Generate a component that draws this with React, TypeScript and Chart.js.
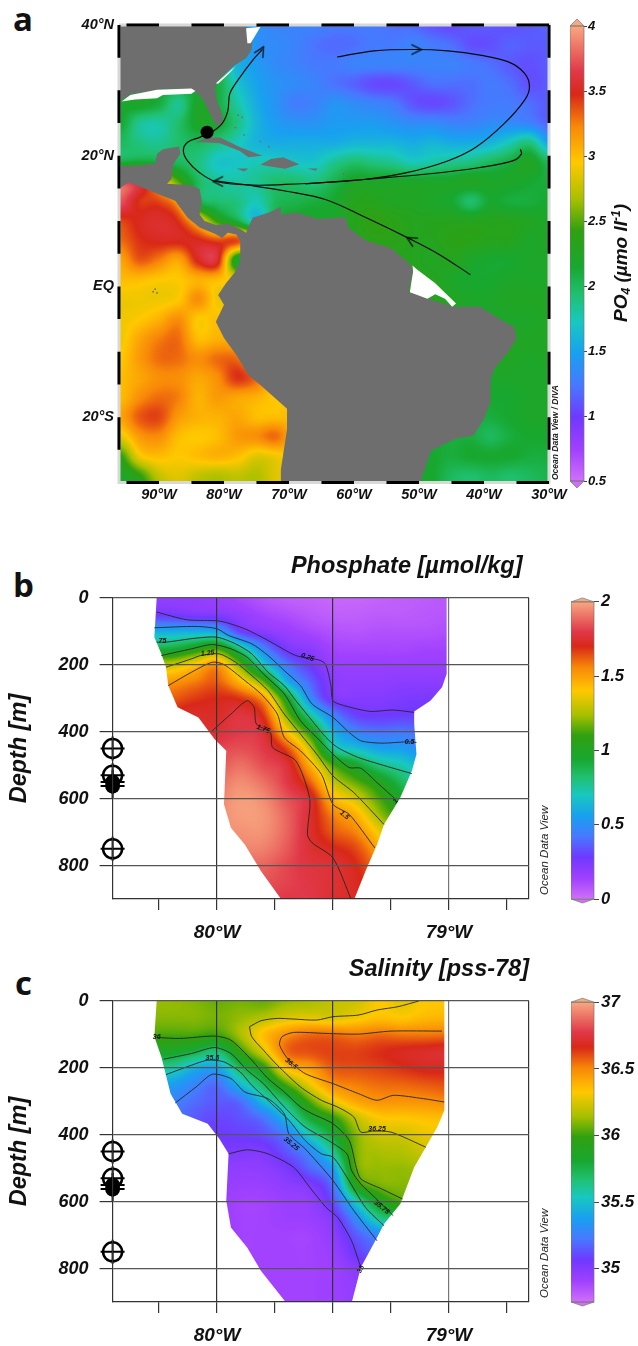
import React, { useEffect, useRef } from "react";
import { Chart, registerables } from "chart.js";
Chart.register(...registerables);

const FONT = "'Liberation Sans', Arial, sans-serif";

// ---------- colour ramp shared by the three panels ----------
const rampStops: [number, string][] = [
  [0, "#d070f8"], [0.07, "#a040ff"], [0.14, "#7038ff"], [0.21, "#4878ff"], [0.28, "#18a0f0"],
  [0.35, "#18c8c0"], [0.41, "#20c070"], [0.47, "#18a830"], [0.55, "#30a010"], [0.62, "#a8c000"],
  [0.7, "#ffc800"], [0.78, "#f88808"], [0.85, "#d82818"], [0.9, "#e03848"], [1, "#f8a880"],
];

// ---------- panel a : PO4 surface field ----------
const mapLons = [-96,-93,-90,-87,-84,-81,-78,-75,-72,-69,-66,-63,-60,-57,-54,-51,-48,-45,-42,-39,-36,-33,-30];
const mapLats = [40,37,34,31,28,25,22,19,16,13,10,7,4,1,-2,-5,-8,-11,-14,-17,-20,-23,-26,-29,-32];
const po4Rows = [
  [2,2,2,2,2,2,1.6,1.4,1.3,1.3,1.3,1.25,1.25,1.25,1.2,1.18,1.1,1.05,1.12,1.12,1.08,1.12,1.15],
  [2,2,2,2,2,2,1.7,1.4,1.35,1.3,1.22,1.18,1.2,1.25,1.25,1.3,1.25,1.2,1.08,1.08,1.15,1.12,1.12],
  [2,2,2,2,2,2,1.6,1.45,1.35,1.3,1.25,1.25,1.3,1.3,1.3,1.3,1.3,1.3,1.25,1.2,1.12,1.08,1.12],
  [2.1,2.1,2.1,2.1,2.1,2.1,1.7,1.5,1.4,1.35,1.3,1.22,1.15,1.06,1.05,1.12,1.2,1.2,1.2,1.25,1.2,1.08,1.12],
  [2.15,2.2,2.1,1.85,2.2,2.1,1.8,1.55,1.4,1.27,1.3,1.4,1.35,1.3,1.25,1.1,1.05,1.1,1.2,1.25,1.25,1.2,1.12],
  [2.15,1.85,1.8,1.95,2.2,2.15,1.9,1.6,1.45,1.4,1.4,1.45,1.45,1.45,1.4,1.35,1.35,1.3,1.3,1.35,1.35,1.3,1.15],
  [2.0,1.9,1.85,1.95,2.0,1.9,1.75,1.6,1.55,1.55,1.55,1.55,1.6,1.6,1.6,1.55,1.6,1.55,1.55,1.6,1.75,1.9,1.5],
  [2.1,2.15,2.1,2.0,1.9,1.7,1.7,1.75,1.75,1.7,1.7,1.85,1.95,1.9,1.85,1.75,1.8,1.85,1.9,2.0,2.1,2.25,2.0],
  [3.7,3.5,3.0,2.5,2.0,1.85,1.8,1.85,1.95,1.95,1.9,2.05,2.2,2.2,2.2,2.2,2.2,2.2,2.25,2.2,2.2,2.15,2.1],
  [3.75,3.45,3.4,3.1,2.1,1.95,1.9,1.75,2.0,2.05,2.1,2.15,2.3,2.3,2.25,2.25,2.2,2.15,1.95,2.15,2.1,2.1,2.15],
  [3.4,3.5,3.55,3.45,3.0,2.4,2.1,1.7,2.1,2.2,2.2,2.2,2.3,2.4,2.35,2.3,2.3,2.3,2.3,2.3,2.3,2.25,2.2],
  [3.3,3.45,3.5,3.5,3.5,3.4,3.4,3.0,2.4,2.3,2.3,2.3,2.3,2.35,2.35,2.3,2.3,2.35,2.35,2.3,2.3,2.2,2.25],
  [3.1,3.35,3.25,3.1,3.5,3.55,2.2,2.4,2.4,2.3,2.3,2.3,2.3,2.3,2.3,2.3,2.25,2.3,2.2,2.15,2.15,2.2,2.2],
  [3.0,3.0,2.95,2.95,3.05,3.0,2.9,2.9,2.4,2.3,2.3,2.3,2.3,2.3,2.3,2.3,2.3,2.2,2.15,2.15,2.2,2.2,2.2],
  [2.9,2.9,2.9,2.95,3.2,2.9,2.9,2.9,2.4,2.3,2.3,2.3,2.3,2.3,2.3,2.3,2.3,2.25,2.2,2.2,2.25,2.25,2.25],
  [2.9,2.95,3.05,3.2,2.95,3.0,3.0,2.9,2.4,2.3,2.3,2.3,2.3,2.3,2.3,2.3,2.3,2.25,2.2,2.2,2.2,2.2,2.25],
  [2.9,3.1,3.25,3.3,3.0,3.05,3.05,2.9,2.4,2.3,2.3,2.3,2.3,2.3,2.3,2.3,2.3,2.25,2.25,2.25,2.25,2.25,2.25],
  [2.95,3.15,3.3,3.3,3.2,3.3,3.3,3.0,2.9,2.3,2.3,2.3,2.3,2.3,2.3,2.3,2.3,2.25,2.25,2.25,2.25,2.2,2.25],
  [3.0,3.1,3.2,3.2,3.1,3.2,3.45,3.3,3.0,2.9,2.3,2.3,2.3,2.3,2.3,2.3,2.3,2.25,2.2,2.2,2.2,2.2,2.2],
  [3.0,3.2,3.3,3.25,3.05,3.15,3.1,3.05,2.95,2.95,2.3,2.3,2.3,2.3,2.3,2.3,2.3,2.2,2.15,2.15,2.15,2.2,2.2],
  [3.1,3.35,3.4,3.15,3.05,3.05,3.1,3.0,3.0,3.0,2.9,2.3,2.3,2.3,2.3,2.3,2.2,2.15,2.1,2.1,2.15,2.2,2.2],
  [2.85,3.15,3.2,3.0,2.95,3.0,3.15,3.2,3.3,3.0,2.9,2.3,2.3,2.3,2.2,2.2,2.15,2.1,2.1,2.0,2.1,2.15,2.15],
  [2.4,2.9,3.0,2.95,3.0,3.05,3.0,2.85,2.9,3.0,2.9,2.3,2.3,2.2,2.2,2.15,2.15,2.1,2.15,2.15,2.15,2.1,2.1],
  [2.2,2.4,2.75,2.85,2.75,2.7,2.75,2.7,2.85,2.9,2.8,2.3,2.3,2.2,2.2,2.15,2.15,2.0,1.95,2.0,1.95,2.0,2.05],
  [2.1,2.3,2.6,2.8,2.7,2.7,2.75,2.7,2.85,2.9,2.8,2.3,2.3,2.2,2.2,2.15,2.15,2.0,1.95,2.0,1.95,2.0,2.05],
];

const landNorthAmerica = [[-96.2,40.1],[-76.6,40.1],[-75.6,37.9],[-75.75,36.2],[-76.6,34.9],[-78.4,33.8],[-80.9,31.5],[-81.4,30.3],[-81.1,28.5],[-80.3,26.4],[-80.1,25.3],[-81.25,24.5],[-82,26.2],[-83.3,28.7],[-84.5,29.9],[-86.9,30.3],[-90,30.1],[-92.5,29.7],[-94.4,29.4],[-95.6,28.6],[-96.2,28.2],[-96.2,40.1]];
const landAmericas = [[-96.2,18.4],[-93.1,18.5],[-90.6,18.8],[-90.3,20.3],[-89.4,21],[-86.9,21.4],[-86.7,20.3],[-87.8,18.7],[-88.1,16.4],[-88.75,15.7],[-85,15.5],[-83.75,14.9],[-83.4,13.1],[-83.75,11],[-83,10],[-81.25,9.4],[-79.4,9.6],[-77.5,8.8],[-76.6,8.2],[-75.6,10.5],[-73.1,11.3],[-71.25,12.2],[-71.25,11],[-68.75,11.3],[-65.6,10.3],[-61.25,10.6],[-60.9,9],[-58.1,7],[-54.4,5.9],[-51.25,3.3],[-50.9,2.3],[-51.6,-0.8],[-48.75,-1.8],[-44.7,-3.1],[-40.6,-3.1],[-36.9,-5.4],[-35.3,-6.2],[-35,-8],[-36.25,-10],[-38.4,-12.6],[-39,-14.4],[-39,-17.7],[-40,-20.3],[-41.6,-22.8],[-44.4,-23.3],[-48.1,-25.1],[-48.75,-26.9],[-50,-30.5],[-71.25,-30.5],[-71.25,-28],[-70.3,-21.8],[-70.3,-18.7],[-74.4,-15.1],[-76.25,-13.6],[-78.1,-10.5],[-80,-7.9],[-81.25,-5.4],[-80,-2.8],[-80.9,-1.3],[-79.7,0.5],[-78.4,2.05],[-77.5,3.85],[-77.5,6.9],[-78.1,7.95],[-79.4,8.2],[-80.3,7.4],[-81.25,8.0],[-83.75,9],[-85.6,10.5],[-87.5,13.1],[-89.4,13.85],[-92.5,15.1],[-94.7,15.9],[-96.2,14.9],[-96.2,18.4]];
const landCuba = [[-84.4,22.05],[-82.5,22.8],[-80.6,22.8],[-77.5,21.3],[-74.1,20],[-76.25,19.75],[-77.5,20.7],[-80.6,21.9],[-83.1,22.05],[-84.4,22.05]];
const landHispaniola = [[-74.4,18.6],[-72.8,19.5],[-70.9,19.75],[-68.4,18.7],[-70.6,18],[-73.1,18.4],[-74.4,18.6]];
const landJamaica = [[-78.1,18.05],[-76.25,18.05],[-76.9,17.6],[-78.1,18.05]];
const landPuertoRico = [[-67.2,18.05],[-65.6,18.05],[-65.9,17.7],[-67.2,18.05]];
const islandDots = [[-77.8,26.2],[-77.2,25.9],[-78.25,24.3],[-76.9,23.2],[-74.4,22.2],[-73.1,21.4],[-61.6,17.2],[-61.4,16.2],[-61.1,14.6],[-61.1,13.1],[-90.9,-0.8],[-90.3,-1],[-90.6,-0.4]];
const noDataDelaware = [[-76.6,39.5],[-74.4,39.7],[-75.3,38.2],[-75.9,37.2],[-76.4,37.2],[-76.6,39.5]];
const noDataGeorgia = [[-81.25,31.1],[-78.25,33.7],[-79.1,32.7],[-80.9,31],[-81.25,31.1]];
const noDataGulf = [[-95.75,28.3],[-94.4,29.3],[-90.3,30.1],[-85,30.3],[-84.4,29.9],[-85,29.5],[-89.4,29.3],[-90.3,28.8],[-93.7,28.6],[-95.75,28.3]];
const noDataAmazon = [[-51,3.2],[-50.3,2.6],[-47.5,0.5],[-44.3,-2.6],[-44.9,-3.1],[-46,-1.9],[-47.5,-1.2],[-48.7,-1.9],[-51.4,-0.9],[-51.2,0.5],[-50.9,2.3],[-51,3.2]];

const currentGyre = [[-62.6,35.1],[-56.9,36.05],[-50.6,36.25],[-45.6,36.05],[-40.6,35.4],[-36.25,34.35],[-33.75,32.6],[-33,30.5],[-33.75,28.5],[-36.9,24.9],[-41.25,21.3],[-45.6,19.2],[-51.9,17.4],[-58.1,16.4],[-64.4,15.9],[-70.6,15.6],[-75.6,15.5],[-81.25,16.05],[-83.75,17.4],[-85.6,19.2],[-86.25,20.8],[-85.6,22.05],[-83.75,22.8],[-81.9,23.6],[-80.3,24.9],[-79.4,26.9],[-79.1,29.5],[-77.5,32.05],[-75.6,34.6],[-74.1,36.25]];
const currentNorthEquatorial = [[-34.4,21],[-34.25,20.25],[-35.6,19.2],[-40.6,18.2],[-48.75,17.2],[-58.1,16.4],[-67.5,15.7]];
const currentGuiana = [[-42.1,1.8],[-46.9,4.9],[-51.25,7.2],[-58.1,10.5],[-64.4,13.3],[-70.6,14.6],[-75.6,15.4],[-81.25,16.15]];
const arrowTips = [[-50.4,36.25],[-74.3,36.0],[-80.9,16.05],[-51.2,7.1]];
const arrowAngles = [0, -60, 180, -150];
const coreSite = [[-82.6, 23.6]];

const mapLonMin = -96.15;
const mapBorderLonDashes = [[-95,-90],[-85,-80],[-75,-70],[-65,-60],[-55,-50],[-45,-40],[-35,-30]];
const mapBorderLatDashes = [[40,35],[30,25],[20,15],[10,5],[0,-5],[-10,-15],[-20,-25]];
const mapLonTicks = [-90,-80,-70,-60,-50,-40,-30];
const mapLatTicks = [40,20,0,-20];

// ---------- panels b, c : sections ----------
const sectionLons = [-80.3,-80.2,-80.1,-80,-79.9,-79.8,-79.7,-79.6,-79.5,-79.4,-79.3,-79.2,-79.1,-79];
const sectionDepths = [0,50,100,150,200,250,300,350,400,450,500,550,600,650,700,750,800,850,900];
const sectionLonTicks = [-80.25,-80,-79.75,-79.5,-79.25,-79,-78.75,-78.655];
const sectionDepthTicks = [0,200,400,600,800];

const phosphateColumns = [
  [.18,.27,.6,.9,1.29,1.52,1.62,1.72,1.75,1.78,1.8,1.82,1.85,1.85,1.85,1.85,1.85,1.85,1.85],
  [.18,.27,.6,.9,1.29,1.52,1.62,1.72,1.75,1.78,1.8,1.82,1.85,1.85,1.85,1.85,1.85,1.85,1.85],
  [.18,.24,.6,1.0,1.4,1.57,1.67,1.74,1.76,1.8,1.85,1.88,1.9,1.92,1.9,1.88,1.85,1.82,1.8],
  [.16,.23,.57,1.1,1.52,1.62,1.7,1.73,1.76,1.82,1.85,1.9,1.93,1.95,1.94,1.9,1.85,1.82,1.8],
  [.12,.18,.3,.78,1.17,1.44,1.68,1.78,1.8,1.84,1.9,1.95,1.98,1.98,1.96,1.93,1.88,1.85,1.82],
  [.08,.13,.21,.46,.72,1.15,1.52,1.68,1.76,1.8,1.84,1.9,1.95,1.97,1.96,1.93,1.88,1.85,1.82],
  [.05,.1,.16,.25,.43,.62,1.0,1.2,1.42,1.65,1.77,1.8,1.85,1.88,1.88,1.86,1.83,1.82,1.8],
  [.04,.07,.12,.2,.28,.38,.5,.77,1.06,1.3,1.47,1.62,1.75,1.75,1.75,1.76,1.78,1.79,1.8],
  [.03,.05,.09,.13,.17,.21,.24,.46,.63,.77,1.13,1.3,1.45,1.57,1.63,1.71,1.76,1.76,1.75],
  [.03,.05,.08,.12,.16,.19,.22,.3,.46,.66,.96,1.15,1.32,1.46,1.56,1.65,1.7,1.72,1.72],
  [.04,.06,.09,.12,.16,.19,.22,.28,.41,.57,.8,1.02,1.13,1.23,1.37,1.48,1.55,1.6,1.62],
  [.05,.06,.09,.12,.16,.2,.24,.29,.42,.55,.72,.85,.96,1.05,1.15,1.25,1.3,1.35,1.4],
  [.06,.07,.09,.13,.16,.2,.25,.3,.38,.48,.6,.7,.8,.9,1,1.1,1.15,1.2,1.25],
  [.07,.08,.1,.13,.16,.2,.25,.3,.36,.44,.55,.65,.75,.85,.95,1.05,1.1,1.15,1.2],
];
const salinityColumns = [
  [36.12,36.1,36.02,35.85,35.6,35.38,35.27,35.2,35.12,35.08,35.05,35,35,35,35,35,35,35,35],
  [36.12,36.1,36.02,35.85,35.6,35.38,35.27,35.2,35.12,35.08,35.05,35,35,35,35,35,35,35,35],
  [36.1,36.1,36.02,35.78,35.45,35.28,35.2,35.15,35.1,35.05,35,34.97,34.95,34.95,34.95,34.95,34.95,34.95,34.95],
  [36.06,36.08,36.0,35.68,35.4,35.2,35.15,35.1,35.07,35.03,34.98,34.95,34.93,34.93,34.93,34.93,34.93,34.93,34.93],
  [36.08,36.12,36.15,35.98,35.72,35.47,35.2,35.13,35.08,35.02,34.96,34.93,34.9,34.9,34.9,34.9,34.9,34.9,34.9],
  [36.06,36.17,36.35,36.25,35.95,35.72,35.48,35.22,35.12,35.02,34.97,34.93,34.9,34.9,34.9,34.9,34.9,34.9,34.9],
  [36.12,36.25,36.48,36.55,36.35,36.02,35.7,35.48,35.25,35.14,35.03,34.97,34.93,34.92,34.9,34.9,34.9,34.9,34.9],
  [36.15,36.27,36.55,36.6,36.45,36.28,36.03,35.8,35.55,35.3,35.18,35.02,34.95,34.93,34.9,34.9,34.9,34.9,34.9],
  [36.2,36.25,36.55,36.62,36.58,36.48,36.28,35.97,35.8,35.62,35.38,35.22,35.12,35.01,34.97,34.94,34.92,34.92,34.92],
  [36.22,36.3,36.52,36.62,36.6,36.52,36.42,36.2,36.1,36.08,36.05,35.92,35.55,35.3,35.15,35.08,34.99,34.96,34.95],
  [36.32,36.35,36.55,36.65,36.62,36.55,36.47,36.32,36.22,36.15,36.12,36.08,35.88,35.62,35.3,35.2,35.1,35.05,35],
  [36.27,36.33,36.53,36.68,36.65,36.56,36.47,36.33,36.23,36.17,36.12,36.1,36.02,35.7,35.45,35.3,35.15,35.1,35.05],
  [36.32,36.37,36.53,36.7,36.68,36.58,36.48,36.35,36.28,36.22,36.15,36.1,36,35.8,35.6,35.4,35.2,35.15,35.1],
  [36.33,36.38,36.54,36.72,36.68,36.6,36.5,36.36,36.3,36.25,36.18,36.12,36,35.8,35.6,35.4,35.2,35.15,35.1],
];

const phosphateOutline = [[-80.26,0],[-80.27,117],[-80.24,167],[-80.22,207],[-80.21,262],[-80.17,327],[-80.08,357],[-80.01,422],[-79.96,457],[-79.97,617],[-79.94,687],[-79.88,737],[-79.81,817],[-79.72,904],[-79.41,904],[-79.36,817],[-79.31,737],[-79.28,677],[-79.21,597],[-79.16,517],[-79.14,467],[-79.15,377],[-79.15,339],[-79.08,307],[-79.03,267],[-79.01,227],[-79.01,0]];
const salinityOutline = [[-80.26,0],[-80.27,107],[-80.24,167],[-80.22,222],[-80.2,277],[-80.15,337],[-80.04,367],[-79.99,412],[-79.95,457],[-79.96,597],[-79.94,677],[-79.87,737],[-79.81,807],[-79.7,904],[-79.42,904],[-79.38,797],[-79.31,707],[-79.28,667],[-79.21,607],[-79.15,497],[-79.1,437],[-79.05,377],[-79.02,327],[-79.02,0]];

const phosphateContours = [
  [[-80.26,42],[-80.13,65],[-79.99,69],[-79.88,92],[-79.78,127],[-79.66,172],[-79.54,192],[-79.51,257],[-79.5,307],[-79.45,322],[-79.34,339],[-79.24,335],[-79.15,342]],
  [[-80.27,89],[-80.09,85],[-80,92],[-79.95,112],[-79.85,137],[-79.78,172],[-79.71,217],[-79.64,262],[-79.59,317],[-79.5,357],[-79.43,402],[-79.38,427],[-79.29,434],[-79.18,430],[-79.14,432]],
  [[-80.26,132],[-80.22,132],[-80.09,120],[-80,117],[-79.92,137],[-79.85,167],[-79.78,222],[-79.71,262],[-79.66,307],[-79.59,367],[-79.53,417],[-79.48,447],[-79.39,477],[-79.25,507],[-79.16,525]],
  [[-80.24,172],[-80.11,152],[-80.02,139],[-79.94,152],[-79.87,177],[-79.8,227],[-79.71,287],[-79.64,367],[-79.57,417],[-79.5,467],[-79.43,507],[-79.38,509],[-79.31,552],[-79.23,602]],
  [[-80.22,207],[-80.11,182],[-80.07,172],[-79.99,167],[-79.92,192],[-79.85,232],[-79.78,277],[-79.71,347],[-79.64,407],[-79.57,467],[-79.5,532],[-79.41,582],[-79.28,677]],
  [[-80.21,262],[-80.11,222],[-80.02,192],[-79.97,199],[-79.88,247],[-79.81,287],[-79.74,347],[-79.71,417],[-79.64,457],[-79.55,527],[-79.5,617],[-79.43,647],[-79.32,747]],
  [[-80.02,397],[-79.94,347],[-79.87,307],[-79.84,327],[-79.83,377],[-79.77,402],[-79.76,447],[-79.66,487],[-79.6,602],[-79.61,707],[-79.59,732],[-79.5,777],[-79.42,904]],
];
const salinityContours = [
  [[-79.86,77],[-79.81,59],[-79.74,52],[-79.67,54],[-79.57,57],[-79.5,47],[-79.39,42],[-79.31,27],[-79.22,17],[-79.13,0]],
  [[-79.86,77],[-79.85,107],[-79.8,147],[-79.74,192],[-79.64,257],[-79.55,297],[-79.48,317],[-79.41,347],[-79.38,392],[-79.33,389],[-79.25,392],[-79.1,437]],
  [[-79.03,90],[-79.25,90],[-79.39,99],[-79.53,97],[-79.67,94],[-79.72,107],[-79.73,132],[-79.69,177],[-79.62,217],[-79.5,247],[-79.39,277],[-79.31,297],[-79.24,282],[-79.11,292],[-79.02,302]],
  [[-80.26,109],[-80.16,112],[-80.01,105],[-79.94,117],[-79.85,177],[-79.78,232],[-79.71,272],[-79.64,317],[-79.59,337],[-79.5,367],[-79.43,417],[-79.4,497],[-79.38,532],[-79.29,562],[-79.2,592]],
  [[-80.23,174],[-80.11,157],[-80.01,139],[-79.94,157],[-79.87,207],[-79.8,247],[-79.71,317],[-79.62,377],[-79.52,417],[-79.44,457],[-79.42,507],[-79.38,547],[-79.32,587],[-79.24,642]],
  [[-80.22,220],[-80.11,192],[-80.04,177],[-79.97,182],[-79.9,212],[-79.85,252],[-79.78,297],[-79.69,357],[-79.62,417],[-79.55,457],[-79.5,467],[-79.44,527],[-79.36,617],[-79.28,672]],
  [[-80.18,305],[-80.09,257],[-80.02,219],[-79.94,232],[-79.88,272],[-79.78,292],[-79.71,337],[-79.69,397],[-79.62,442],[-79.5,537],[-79.41,627],[-79.31,717]],
  [[-79.95,457],[-79.87,445],[-79.78,457],[-79.67,497],[-79.6,557],[-79.53,617],[-79.48,647],[-79.42,717],[-79.38,797]],
];
const phosphateLabels: [number, number, string, number][] = [
  [-79.61,177,"0.25",20],[-79.17,431,"0.5",0],[-80.235,130,"75",0],[-80.04,165,"1.25",-5],[-79.8,392,"1.75",20],[-79.23,607,"1",-50],[-79.45,649,"1.5",40],
];
const salinityLabels: [number, number, string, number][] = [
  [-80.26,109,"36",0],[-80.02,172,"35.5",0],[-79.68,187,"36.5",40],[-79.31,382,"36.25",0],[-79.68,427,"35.25",40],[-79.29,617,"35.75",40],[-79.38,802,"35",-60],
];
const bottleRings = [450, 530, 750];
const bottleFilled = [550, 562];

// ---------- colour bars ----------
const po4BarTicks = [0.5,1,1.5,2,2.5,3,3.5,4];
const phosphateBarTicks = [0,0.5,1,1.5,2];
const salinityBarTicks = [35,35.5,36,36.5,37];

// ---------- helpers ----------
const hex = (h: string) => [1, 3, 5].map((i) => parseInt(h.slice(i, i + 2), 16));
const rampLut = (() => {
  const lut = new Uint8ClampedArray(1024 * 3);
  for (let i = 0; i < 1024; i++) {
    const t = i / 1023;
    let k = 0;
    while (k < rampStops.length - 2 && t > rampStops[k + 1][0]) k++;
    const [t0, c0] = rampStops[k];
    const [t1, c1] = rampStops[k + 1];
    const f = Math.min(1, Math.max(0, (t - t0) / (t1 - t0)));
    const a = hex(c0), b = hex(c1);
    for (let c = 0; c < 3; c++) lut[i * 3 + c] = a[c] + (b[c] - a[c]) * f;
  }
  return lut;
})();

function catmull(p0: number, p1: number, p2: number, p3: number, t: number) {
  return 0.5 * (2 * p1 + (p2 - p0) * t + (2 * p0 - 5 * p1 + 4 * p2 - p3) * t * t + (3 * p1 - p0 - 3 * p2 + p3) * t * t * t);
}

function heatPlugin(cfg: { xs: number[]; ys: number[]; at: (c: number, r: number) => number; vmin: number; vmax: number; outline?: number[][] }) {
  return {
    id: "heat",
    beforeDatasetsDraw(chart: any) {
      const { ctx, chartArea: a, scales } = chart;
      const w = Math.ceil(a.width), h = Math.ceil(a.height);
      const off = document.createElement("canvas");
      off.width = w; off.height = h;
      const oc = off.getContext("2d")!;
      const img = oc.createImageData(w, h);
      const nc = cfg.xs.length, nr = cfg.ys.length;
      const dx = cfg.xs[1] - cfg.xs[0], dy = cfg.ys[1] - cfg.ys[0];
      const cl = (v: number, n: number) => Math.max(0, Math.min(n - 1, v));
      for (let py = 0; py < h; py++) {
        const v = (scales.y.getValueForPixel(a.top + py + 0.5) - cfg.ys[0]) / dy;
        const r1 = Math.floor(v), tr = v - r1;
        for (let px = 0; px < w; px++) {
          const u = (scales.x.getValueForPixel(a.left + px + 0.5) - cfg.xs[0]) / dx;
          const c1 = Math.floor(u), tc = u - c1;
          const col: number[] = [];
          for (let q = -1; q <= 2; q++) {
            const rr = cl(r1 + q, nr);
            col.push(catmull(cfg.at(cl(c1 - 1, nc), rr), cfg.at(cl(c1, nc), rr), cfg.at(cl(c1 + 1, nc), rr), cfg.at(cl(c1 + 2, nc), rr), tc));
          }
          const val = catmull(col[0], col[1], col[2], col[3], tr);
          const t = Math.max(0, Math.min(1, (val - cfg.vmin) / (cfg.vmax - cfg.vmin)));
          const li = Math.round(t * 1023) * 3;
          const o = (py * w + px) * 4;
          img.data[o] = rampLut[li]; img.data[o + 1] = rampLut[li + 1]; img.data[o + 2] = rampLut[li + 2]; img.data[o + 3] = 255;
        }
      }
      oc.putImageData(img, 0, 0);
      ctx.save();
      if (cfg.outline) {
        ctx.beginPath();
        cfg.outline.forEach(([x, y], i) => {
          const X = scales.x.getPixelForValue(x), Y = scales.y.getPixelForValue(y);
          i ? ctx.lineTo(X, Y) : ctx.moveTo(X, Y);
        });
        ctx.closePath();
        ctx.clip();
      }
      ctx.drawImage(off, a.left, a.top);
      ctx.restore();
    },
  };
}

function notesPlugin(labels: [number, number, string, number][], watermark: { text: string; x: number; y: number; font: string }) {
  return {
    id: "notes",
    afterDatasetsDraw(chart: any) {
      const { ctx, scales } = chart;
      ctx.save();
      ctx.fillStyle = "#111";
      ctx.textAlign = "center";
      ctx.textBaseline = "middle";
      ctx.font = `italic bold 7px ${FONT}`;
      labels.forEach(([x, y, s, ang]) => {
        ctx.save();
        ctx.translate(scales.x.getPixelForValue(x), scales.y.getPixelForValue(y));
        ctx.rotate((ang * Math.PI) / 180);
        ctx.fillText(s, 0, 0);
        ctx.restore();
      });
      ctx.restore();
      ctx.save();
      ctx.translate(watermark.x, watermark.y);
      ctx.rotate(-Math.PI / 2);
      ctx.font = watermark.font;
      ctx.fillStyle = "#222";
      ctx.textAlign = "left";
      ctx.textBaseline = "middle";
      ctx.fillText(watermark.text, 0, 0);
      ctx.restore();
    },
  };
}

const pts = (list: number[][]) => list.map(([x, y]) => ({ x, y }));
const poly = (list: number[][], color: string) => ({
  data: pts(list), showLine: true, fill: "shape", backgroundColor: color, borderColor: color, borderWidth: 0, pointRadius: 0, tension: 0,
});
const axisFont = (size: number) => ({ family: FONT, size, weight: "bold", style: "italic" });

function barGradient(ctx: any, stopsArea: any) {
  const g = ctx.createLinearGradient(0, stopsArea.bottom, 0, stopsArea.top);
  rampStops.forEach(([t, c]) => g.addColorStop(t, c));
  return g;
}

function colorBar(canvas: HTMLCanvasElement, o: { min: number; max: number; ticks: number[]; size: number; tip: number; top: number; bottom: number; axisW: number; padding: number; tickLen: number; po4Title?: boolean }) {
  return new Chart(canvas, {
    type: "bar",
    data: {
      labels: [""],
      datasets: [{
        data: [[o.min, o.max]],
        barPercentage: 1, categoryPercentage: 1,
        borderWidth: 0,
        backgroundColor: (c: any) => (c.chart.chartArea ? barGradient(c.chart.ctx, c.chart.chartArea) : "#888"),
      }],
    } as any,
    options: {
      responsive: false, animation: false,
      layout: { padding: { top: o.top, bottom: o.bottom, left: 0, right: 0 } },
      plugins: { legend: { display: false }, tooltip: { enabled: false } },
      scales: {
        x: { display: false },
        y: {
          position: "right", min: o.min, max: o.max,
          afterBuildTicks: (s: any) => { s.ticks = o.ticks.map((value) => ({ value })); },
          afterFit: (s: any) => { s.width = o.axisW; },
          grid: { drawOnChartArea: false, tickLength: o.tickLen, tickColor: "#444" },
          border: { display: false },
          ticks: { autoSkip: false, padding: o.padding, color: "#111", font: axisFont(o.size), callback: (v: any) => String(v) },
        },
      },
    } as any,
    plugins: [{
      id: "caps",
      afterDatasetsDraw(chart: any) {
        const { ctx, chartArea: a } = chart;
        const mid = (a.left + a.right) / 2;
        ctx.save();
        ctx.strokeStyle = "#777";
        ctx.lineWidth = 0.7;
        ctx.fillStyle = rampStops[rampStops.length - 1][1];
        ctx.beginPath(); ctx.moveTo(a.left, a.top); ctx.lineTo(mid, a.top - o.tip); ctx.lineTo(a.right, a.top); ctx.closePath(); ctx.fill(); ctx.stroke();
        ctx.fillStyle = rampStops[0][1];
        ctx.beginPath(); ctx.moveTo(a.left, a.bottom); ctx.lineTo(mid, a.bottom + o.tip); ctx.lineTo(a.right, a.bottom); ctx.closePath(); ctx.fill(); ctx.stroke();
        ctx.strokeRect(a.left, a.top, a.width, a.height);
        ctx.restore();
        if (o.po4Title) {
          ctx.save();
          ctx.translate(52, 263);
          ctx.rotate(-Math.PI / 2);
          ctx.fillStyle = "#111";
          ctx.textBaseline = "middle";
          const big = `italic bold 19px ${FONT}`, small = `italic bold 12px ${FONT}`;
          const parts: [string, string, number][] = [["PO", big, 0], ["4", small, 5], [" (µmo lI", big, 0], ["-1", small, -5], [")", big, 0]];
          let total = 0;
          parts.forEach(([s, f]) => { ctx.font = f; total += ctx.measureText(s).width; });
          let cx = -total / 2;
          parts.forEach(([s, f, dy]) => { ctx.font = f; ctx.fillText(s, cx, dy); cx += ctx.measureText(s).width; });
          ctx.restore();
        }
      },
    }],
  } as any);
}

function section(canvas: HTMLCanvasElement, o: { title: string; titlePadTop: number; titlePadBottom: number; columns: number[][]; vmin: number; vmax: number; outline: number[][]; contours: number[][][]; labels: [number, number, string, number][]; wmY: number }) {
  const H = canvas.height;
  const lineSets = o.contours.map((c) => ({
    data: pts(c), showLine: true, borderColor: "#262626", borderWidth: 0.9, pointRadius: 0, tension: 0.25, fill: false,
  }));
  const lonLeft = -80.45;
  const ring = bottleRings.map((d) => ({ x: lonLeft, y: d }));
  const filled = bottleFilled.map((d) => ({ x: lonLeft, y: d }));
  const all = [...ring, ...filled];
  return new Chart(canvas, {
    type: "scatter",
    data: {
      datasets: [
        { data: all, pointStyle: "cross", pointRadius: 12, pointBorderWidth: 2, pointBorderColor: "#000", clip: false },
        { data: ring, pointStyle: "circle", pointRadius: 9.5, pointBorderWidth: 2.5, pointBorderColor: "#000", pointBackgroundColor: "rgba(0,0,0,0)", clip: false },
        { data: filled, pointStyle: "circle", pointRadius: 7.5, pointBorderWidth: 0, pointBackgroundColor: "#000", clip: false },
        ...lineSets,
      ],
    } as any,
    options: {
      responsive: false, animation: false,
      layout: { padding: { left: 0, right: 29, top: 0, bottom: 0 } },
      plugins: {
        legend: { display: false }, tooltip: { enabled: false },
        title: { display: true, text: o.title, align: "end", color: "#111", font: axisFont(23.5), padding: { top: o.titlePadTop, bottom: o.titlePadBottom } },
      },
      scales: {
        x: {
          type: "linear", min: lonLeft, max: -78.655,
          afterBuildTicks: (s: any) => { s.ticks = sectionLonTicks.map((value) => ({ value })); },
          afterFit: (s: any) => { s.height = H - (canvas.dataset.bottom as any); },
          grid: {
            z: 1, tickLength: 11, lineWidth: 1.2,
            color: (c: any) => ([-80, -79.5].includes(c.tick?.value) ? "#333" : c.tick?.value === -79 ? "#777" : c.tick?.value === -78.655 ? "#333" : "rgba(0,0,0,0)"),
            tickColor: (c: any) => (c.tick?.value === -78.655 ? "rgba(0,0,0,0)" : "#333"),
          },
          border: { z: 1, color: "#333", width: 1.2 },
          ticks: {
            autoSkip: false, maxRotation: 0, padding: 11, color: "#111", font: axisFont(19),
            callback: (v: number) => (v === -80 ? "80°W" : v === -79 ? "79°W" : ""),
          },
        },
        y: {
          type: "linear", reverse: true, min: 0, max: 900,
          afterBuildTicks: (s: any) => { s.ticks = sectionDepthTicks.map((value) => ({ value })); },
          afterFit: (s: any) => { s.width = 112.6; },
          grid: { z: 1, tickLength: 13, color: "#555", tickColor: "#333", lineWidth: 1.2 },
          border: { z: 1, color: "#333", width: 1.2 },
          ticks: { autoSkip: false, padding: 11, color: "#111", font: axisFont(18), callback: (v: any) => String(v) },
          title: { display: true, text: "Depth [m]", color: "#111", font: axisFont(23.5), padding: { top: 5, bottom: 0 } },
        },
      },
    } as any,
    plugins: [
      heatPlugin({ xs: sectionLons, ys: sectionDepths, at: (c, r) => o.columns[c][r], vmin: o.vmin, vmax: o.vmax, outline: o.outline }),
      notesPlugin(o.labels, { text: "Ocean Data View", x: 545, y: o.wmY, font: `italic 11.5px ${FONT}` }),
    ],
  } as any);
}

function chevron() {
  const c = document.createElement("canvas");
  c.width = 14; c.height = 14;
  const g = c.getContext("2d")!;
  g.strokeStyle = "#000"; g.lineWidth = 1.2;
  g.beginPath(); g.moveTo(2, 2); g.lineTo(12, 7); g.lineTo(2, 12); g.stroke();
  return c;
}

function mapChart(canvas: HTMLCanvasElement) {
  const curve = (list: number[][]) => ({ data: pts(list), showLine: true, borderColor: "#0a0a0a", borderWidth: 1.2, pointRadius: 0, tension: 0.35, fill: false });
  const lonDash = (lat: number) => ({
    data: mapBorderLonDashes.flatMap(([a, b]) => [{ x: a, y: lat }, { x: b, y: lat }, { x: NaN, y: NaN }]),
    showLine: true, borderColor: "#000", borderWidth: 3, pointRadius: 0, clip: false, spanGaps: false, fill: false,
  });
  const latDash = (lon: number) => ({
    data: mapBorderLatDashes.flatMap(([a, b]) => [{ x: lon, y: a }, { x: lon, y: b }, { x: NaN, y: NaN }]),
    showLine: true, borderColor: "#000", borderWidth: 3, pointRadius: 0, clip: false, spanGaps: false, fill: false,
  });
  const arrow = chevron();
  return new Chart(canvas, {
    type: "scatter",
    data: {
      datasets: [
        lonDash(40), lonDash(-30), latDash(mapLonMin), latDash(-30),
        { data: pts([[mapLonMin, 40], [-30, 40], [-30, -30], [mapLonMin, -30], [mapLonMin, 40]]), showLine: true, borderColor: "#d8d8d8", borderWidth: 3, pointRadius: 0, clip: false, fill: false },
        { data: pts(coreSite), pointStyle: "circle", pointRadius: 6.5, pointBackgroundColor: "#000", pointBorderWidth: 0 },
        { data: pts(arrowTips), pointStyle: arrow, pointRotation: arrowAngles, pointRadius: 7 },
        curve(currentGyre), curve(currentNorthEquatorial), curve(currentGuiana),
        { data: pts(islandDots), pointStyle: "circle", pointRadius: 0.9, pointBackgroundColor: "#6e6e6e", pointBorderWidth: 0 },
        poly(landCuba, "#6e6e6e"), poly(landHispaniola, "#6e6e6e"), poly(landJamaica, "#6e6e6e"), poly(landPuertoRico, "#6e6e6e"),
        poly(noDataAmazon, "#ffffff"), poly(noDataGeorgia, "#ffffff"), poly(noDataGulf, "#ffffff"), poly(noDataDelaware, "#ffffff"),
        poly(landAmericas, "#6e6e6e"), poly(landNorthAmerica, "#6e6e6e"),
      ],
    } as any,
    options: {
      responsive: false, animation: false,
      layout: { padding: { left: 0, right: 26, top: 25, bottom: 0 } },
      plugins: { legend: { display: false }, tooltip: { enabled: false } },
      scales: {
        x: {
          type: "linear", min: mapLonMin, max: -30,
          afterBuildTicks: (s: any) => { s.ticks = mapLonTicks.map((value) => ({ value })); },
          afterFit: (s: any) => { s.height = 37.5; },
          grid: { display: false, drawTicks: false, tickLength: 0 }, border: { display: false },
          ticks: { autoSkip: false, maxRotation: 0, padding: 4, color: "#111", font: axisFont(14.5), callback: (v: number) => `${-v}°W` },
        },
        y: {
          type: "linear", min: -30, max: 40,
          afterBuildTicks: (s: any) => { s.ticks = mapLatTicks.map((value) => ({ value })); },
          afterFit: (s: any) => { s.width = 119; },
          grid: { display: false, drawTicks: false, tickLength: 0 }, border: { display: false },
          ticks: { autoSkip: false, padding: 5, color: "#111", font: axisFont(14.5), callback: (v: number) => (v === 0 ? "EQ" : v > 0 ? `${v}°N` : `${-v}°S`) },
        },
      },
    } as any,
    plugins: [
      heatPlugin({ xs: mapLons, ys: mapLats, at: (c, r) => po4Rows[r][c], vmin: 0.5, vmax: 4 }),
      notesPlugin([], { text: "Ocean Data View / DIVA", x: 556, y: 480, font: `italic bold 8.5px ${FONT}` }),
    ],
  } as any);
}

const box = (left: number, top: number): React.CSSProperties => ({ position: "absolute", left, top, filter: "blur(0.55px)" });
const letter = (left: number, top: number): React.CSSProperties => ({ position: "absolute", left, top, font: "bold 33px 'Open Sans', sans-serif", color: "#111", lineHeight: "36px" });

export default function App() {
  const aRef = useRef<HTMLCanvasElement>(null);
  const bRef = useRef<HTMLCanvasElement>(null);
  const cRef = useRef<HTMLCanvasElement>(null);
  const abRef = useRef<HTMLCanvasElement>(null);
  const bbRef = useRef<HTMLCanvasElement>(null);
  const cbRef = useRef<HTMLCanvasElement>(null);
  useEffect(() => {
    const charts = [
      mapChart(aRef.current!),
      section(bRef.current!, { title: "Phosphate [µmol/kg]\u00a0", titlePadTop: 12, titlePadBottom: 17.8, columns: phosphateColumns, vmin: 0, vmax: 2, outline: phosphateOutline, contours: phosphateContours, labels: phosphateLabels, wmY: 355 }),
      section(cRef.current!, { title: "Salinity [pss-78]", titlePadTop: 5, titlePadBottom: 17.8, columns: salinityColumns, vmin: 34.75, vmax: 37, outline: salinityOutline, contours: salinityContours, labels: salinityLabels, wmY: 348 }),
      colorBar(abRef.current!, { min: 0.5, max: 4, ticks: po4BarTicks, size: 13, tip: 7, top: 26, bottom: 29, axisW: 54, padding: 1, tickLen: 3, po4Title: true }),
      colorBar(bbRef.current!, { min: 0, max: 2, ticks: phosphateBarTicks, size: 16.5, tip: 4, top: 8, bottom: 16, axisW: 44, padding: 2, tickLen: 5 }),
      colorBar(cbRef.current!, { min: 34.75, max: 37, ticks: salinityBarTicks, size: 17, tip: 4, top: 11, bottom: 13, axisW: 44, padding: 2, tickLen: 5 }),
    ];
    return () => charts.forEach((c) => c.destroy());
  }, []);
  return (
    <div style={{ position: "absolute", left: 0, top: 0, width: 638, height: 1346, background: "#fff", overflow: "hidden" }}>
      <div style={letter(13, 1)}>a</div>
      <div style={letter(13, 567)}>b</div>
      <div style={letter(15, 965)}>c</div>
      <canvas ref={aRef} width={575} height={520} style={box(0, 0)} />
      <canvas ref={bRef} width={558} height={405} data-bottom="359" style={box(0, 540)} />
      <canvas ref={cRef} width={558} height={396} data-bottom="352" style={box(0, 950)} />
      <canvas ref={abRef} width={68} height={510} style={box(570, 0)} />
      <canvas ref={bbRef} width={67} height={325} style={box(571, 590)} />
      <canvas ref={cbRef} width={67} height={325} style={box(571, 990)} />
    </div>
  );
}
